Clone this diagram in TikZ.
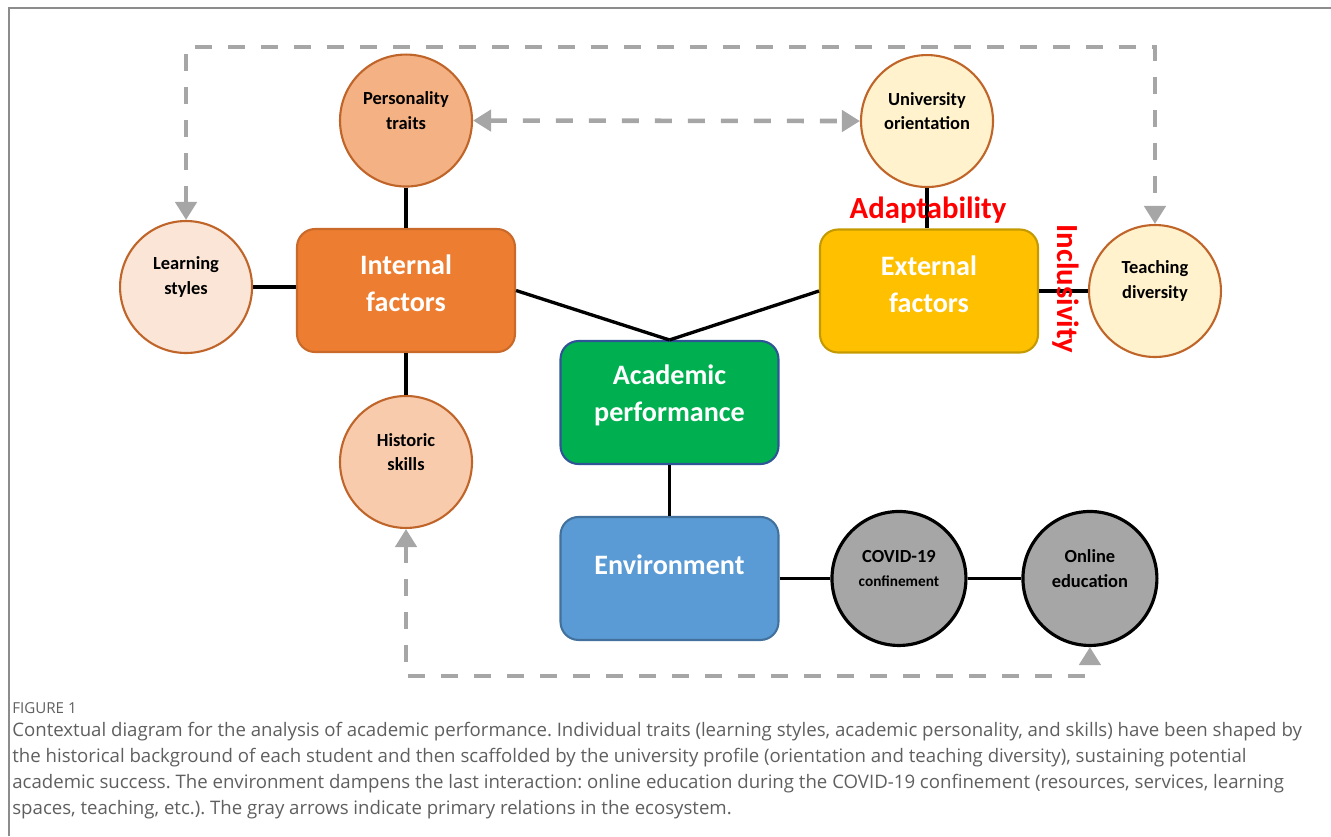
\documentclass[tikz,border=0pt]{standalone}
\usepackage{fontspec}
\usetikzlibrary{shapes,arrows.meta,positioning}
\newfontfamily\diagfont{Carlito}
\newfontfamily\capfont{Open Sans}
\definecolor{persofill}{HTML}{F4B183}
\definecolor{learnfill}{HTML}{FBE5D6}
\definecolor{histfill}{HTML}{F8CBAD}
\definecolor{univfill}{HTML}{FFF2CC}
\definecolor{traitline}{HTML}{C0652A}
\definecolor{internfill}{HTML}{ED7D31}
\definecolor{externfill}{HTML}{FFC000}
\definecolor{externline}{HTML}{C49A00}
\definecolor{acadfill}{HTML}{00B050}
\definecolor{acadline}{HTML}{2F5597}
\definecolor{envfill}{HTML}{5B9BD5}
\definecolor{envline}{HTML}{41719C}
\definecolor{covidfill}{HTML}{A6A6A6}
\definecolor{relgray}{HTML}{A6A6A6}
\definecolor{framegray}{HTML}{8C8C8C}
\definecolor{capgray}{HTML}{5F5F5F}
\tikzstyle{trait} = [circle, minimum size=2.64cm, inner sep=0pt, draw=traitline, line width=1.2pt]
\tikzstyle{context} = [circle, minimum size=2.68cm, inner sep=0pt, draw=black, line width=1.8pt, fill=covidfill]
\tikzstyle{traittext} = [align=center, font=\diagfont\bfseries\fontsize{10.5}{14}\selectfont, yshift=0.2cm]
\tikzstyle{factor} = [rectangle, rounded corners=0.36cm, minimum width=4.36cm, minimum height=2.46cm, line width=1.2pt]
\tikzstyle{factortext} = [align=center, text=white, font=\diagfont\bfseries\fontsize{16}{21}\selectfont, yshift=0.14cm]
\tikzstyle{keyword} = [text=red, font=\diagfont\bfseries\fontsize{17.5}{20}\selectfont, inner sep=0pt]
\tikzstyle{link} = [line width=1.9pt]
\tikzstyle{relation} = [line width=2.6pt, draw=relgray, dash pattern=on 0.34cm off 0.32cm, {Triangle[length=0.36cm,width=0.42cm,fill=relgray]}-{Triangle[length=0.36cm,width=0.42cm,fill=relgray]}]

\begin{document}
\begin{tikzpicture}[x=0.02cm, y=-0.02cm, node distance=3.4cm]
    \useasboundingbox (0,0) rectangle (1331,836);
    \draw [framegray, line width=1.2pt] (9,836) -- (9,8) -- (1331,8);
    % main boxes
    \node (acad) [factor, fill=acadfill, draw=acadline, label={[factortext]center:Academic\\performance}] at (669.5,402.5) {};
    \node (intern) [factor, fill=internfill, draw=internfill!85!black, label={[factortext]center:Internal\\factors}] at (406,290.5) {};
    \node (extern) [factor, fill=externfill, draw=externline, label={[factortext]center:External\\factors}] at (929,291) {};
    \node (env) [factor, fill=envfill, draw=envline, below of=acad, yshift=-0.12cm, label={[factortext, yshift=0.13cm]center:Environment}] {};
    % traits around the factors
    \node (perso) [trait, fill=persofill, above of=intern, label={[traittext]center:Personality\\traits}] {};
    \node (learn) [trait, fill=learnfill, left of=intern, xshift=-1cm, yshift=0.07cm, label={[traittext]center:Learning\\styles}] {};
    \node (hist) [trait, fill=histfill, below of=intern, yshift=-0.03cm, label={[traittext]center:Historic\\skills}] {};
    \node (univ) [trait, fill=univfill, above of=extern, xshift=-0.04cm, label={[traittext]center:University\\orientation}] {};
    \node (teach) [trait, fill=univfill, right of=extern, xshift=1.12cm, label={[traittext]center:Teaching\\diversity}] {};
    % environment chain
    \node (covid) [context, right of=env, xshift=1.19cm, label={[traittext]center:COVID-19\\{\fontsize{8.7}{12}\selectfont confinement}}] {};
    \node (online) [context, right of=covid, xshift=0.42cm, label={[traittext]center:Online\\education}] {};
    \coordinate (toprail) at (0,47);
    \coordinate (botrail) at (0,676);
    % links
    \draw [link] (perso) -- (intern);
    \draw [link] (learn.east) -- (learn.east -| intern.west);
    \draw [link] (intern) -- (hist);
    \draw [link] (intern.east) -- (acad.north);
    \draw [link] (extern.west) -- (acad.north);
    \draw [link] (univ.south) -- (univ.south |- extern.north);
    \draw [link] (extern.east) -- (teach.west);
    \draw [link] (acad) -- (env);
    \draw [link] (env.east) -- (env.east -| covid.west);
    \draw [link] (covid) -- (online);
    % keywords
    \node (adapt) [keyword] at (928,210) {Adaptability};
    \node (inclus) [keyword, rotate=-90] at (1066,289) {Inclusivity};
    % gray relations
    \draw [relation] (learn.north) -- (learn.north |- toprail) -- (toprail -| teach.north) -- (teach.north);
    \draw [relation] (perso.east) -- (univ.west);
    \draw [relation] (hist.south) -- (hist.south |- botrail) -- (botrail -| online.south) -- (online.south);
    % caption
    \node (figlabel) [anchor=west, text=capgray, font=\capfont\fontsize{8.6}{10}\selectfont, inner sep=0pt] at (12,708) {FIGURE 1};
    \node (caption) [anchor=north west, align=left, text=capgray, font=\capfont\fontsize{10.6}{14.7}\selectfont\frenchspacing, inner sep=0pt] at (12,722) {Contextual diagram for the analysis of academic performance. Individual traits (learning styles, academic personality, and skills) have been shaped by\\the historical background of each student and then scaffolded by the university profile (orientation and teaching diversity), sustaining potential\\academic success. The environment dampens the last interaction: online education during the COVID-19 confinement (resources, services, learning\\spaces, teaching, etc.). The gray arrows indicate primary relations in the ecosystem.};
\end{tikzpicture}
\end{document}
